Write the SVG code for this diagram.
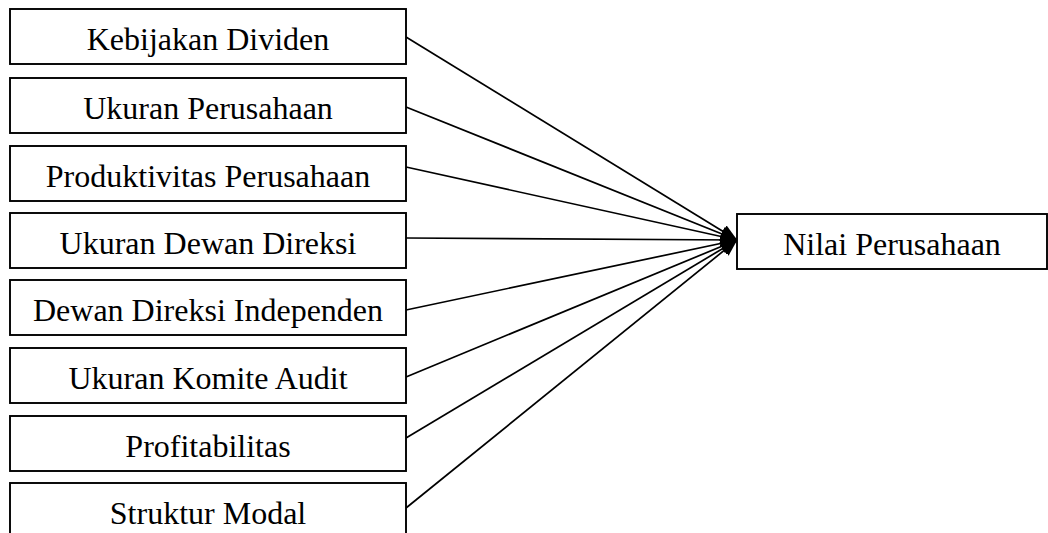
<svg xmlns="http://www.w3.org/2000/svg" width="1048" height="533" viewBox="0 0 1048 533">
<style>
.box{fill:#fff;stroke:#000;stroke-width:1.9}
.lbl{font-family:"Liberation Serif","Times New Roman",serif;font-size:32px;fill:#000;text-anchor:middle}
.edge{stroke:#000;stroke-width:1.7;fill:none;marker-end:url(#arr)}
</style>
<defs>
<marker id="arr" viewBox="0 0 17 14" refX="16.5" refY="7" markerWidth="17" markerHeight="14" markerUnits="userSpaceOnUse" orient="auto">
<path d="M0,0 L17,7 L0,14 Z" fill="#000"/>
</marker>
</defs>
<rect width="1048" height="533" fill="#fff"/>
<g id="connectors">
<line class="edge" x1="406" y1="37" x2="737" y2="240"/>
<line class="edge" x1="406" y1="107" x2="737" y2="240"/>
<line class="edge" x1="406" y1="167" x2="737" y2="240"/>
<line class="edge" x1="406" y1="238" x2="737" y2="240"/>
<line class="edge" x1="406" y1="310" x2="737" y2="240"/>
<line class="edge" x1="406" y1="377" x2="737" y2="240"/>
<line class="edge" x1="406" y1="438" x2="737" y2="240"/>
<line class="edge" x1="406" y1="508" x2="737" y2="240"/>
</g>
<g id="n1"><rect class="box" x="10" y="9" width="396" height="55"/><text class="lbl" x="208" y="50">Kebijakan Dividen</text></g>
<g id="n2"><rect class="box" x="10" y="78" width="396" height="55"/><text class="lbl" x="208" y="119">Ukuran Perusahaan</text></g>
<g id="n3"><rect class="box" x="10" y="146" width="396" height="55"/><text class="lbl" x="208" y="187">Produktivitas Perusahaan</text></g>
<g id="n4"><rect class="box" x="10" y="213" width="396" height="55"/><text class="lbl" x="208" y="254">Ukuran Dewan Direksi</text></g>
<g id="n5"><rect class="box" x="10" y="280" width="396" height="55"/><text class="lbl" x="208" y="321">Dewan Direksi Independen</text></g>
<g id="n6"><rect class="box" x="10" y="348" width="396" height="55"/><text class="lbl" x="208" y="389">Ukuran Komite Audit</text></g>
<g id="n7"><rect class="box" x="10" y="416" width="396" height="55"/><text class="lbl" x="208" y="457">Profitabilitas</text></g>
<g id="n8"><rect class="box" x="10" y="483" width="396" height="55"/><text class="lbl" x="208" y="524">Struktur Modal</text></g>
<g id="target"><rect class="box" x="737" y="214" width="310" height="55"/><text class="lbl" x="892" y="255">Nilai Perusahaan</text></g>
</svg>
